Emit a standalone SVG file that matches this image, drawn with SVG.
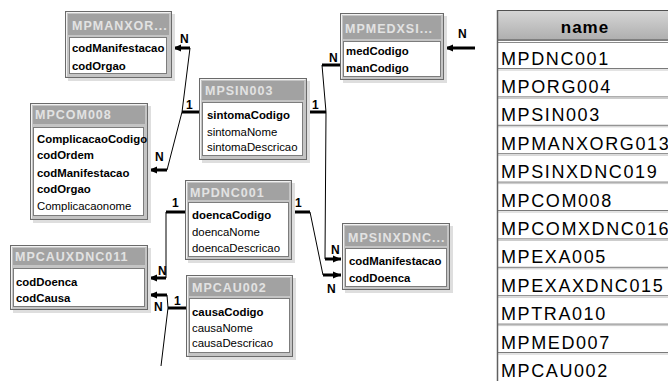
<svg xmlns="http://www.w3.org/2000/svg" width="668" height="381" viewBox="0 0 668 381">
  <defs>
    <linearGradient id="hdr" x1="0" y1="0" x2="0" y2="1">
      <stop offset="0" stop-color="#d6d6d6"/>
      <stop offset="1" stop-color="#adadad"/>
    </linearGradient>
    <marker id="arr" markerUnits="userSpaceOnUse" markerWidth="9" markerHeight="8" refX="8" refY="4" orient="auto">
      <path d="M0,0.5 L8,4 L0,7.5 z" fill="#000"/>
    </marker>
  </defs>
  <style>
    .shadow { fill: #dedede; }
    .win { fill: #c4c4c4; stroke: #6a6a6a; stroke-width: 1; }
    .hl { fill: none; stroke: #f2f2f2; stroke-width: 1; }
    .bar { fill: #a2a2a2; }
    .box { fill: #ffffff; stroke: #7c7c7c; stroke-width: 1; }
    .ttl { font-family: "Liberation Sans", Arial, sans-serif; font-weight: bold; font-size: 12.5px; letter-spacing: 1px; fill: #e2e2e2; }
    .fk { font-family: "Liberation Sans", Arial, sans-serif; font-weight: bold; font-size: 11.4px; fill: #000; }
    .fn { font-family: "Liberation Sans", Arial, sans-serif; font-size: 11.4px; fill: #000; }
    .thin { fill: none; stroke: #000; stroke-width: 1; }
    .stub { fill: none; stroke: #000; stroke-width: 3; }
    .lbl { font-family: "Liberation Sans", Arial, sans-serif; font-weight: bold; font-size: 12px; fill: #000; }
    .rowt { font-family: "Liberation Sans", Arial, sans-serif; font-size: 18px; letter-spacing: 1.6px; fill: #000; }
    .sep { stroke: #7a7a7a; stroke-width: 1; }
    .sep2 { stroke: #c8c8c8; stroke-width: 1; }
  </style>

  <!-- relationship lines -->
  <g id="connectors">
    <!-- MPSIN003.sintomaCodigo -> MPMANXOR.codManifestacao -->
    <path class="stub" d="M182,112 H199"/>
    <path class="thin" d="M182,112 L190,48"/>
    <path class="stub" d="M190,48 H173" marker-end="url(#arr)"/>
    <text class="lbl" x="186" y="109">1</text>
    <text class="lbl" x="180" y="43">N</text>
    <!-- MPSIN003.sintomaCodigo -> MPCOM008.codManifestacao -->
    <path class="thin" d="M182,112 L167,170"/>
    <path class="stub" d="M167,170 H149" marker-end="url(#arr)"/>
    <text class="lbl" x="155" y="161">N</text>
    <!-- MPSIN003.sintomaCodigo -> MPMEDXSI.manCodigo -->
    <path class="stub" d="M307,112 H326"/>
    <path class="thin" d="M326,112 L322,65"/>
    <path class="stub" d="M322,65 H340"/>
    <text class="lbl" x="312" y="109">1</text>
    <text class="lbl" x="329" y="62">N</text>
    <!-- MPSIN003.sintomaCodigo -> MPSINXDNC.codManifestacao -->
    <path class="thin" d="M326,112 L325,259"/>
    <path class="stub" d="M325,259 H341" marker-end="url(#arr)"/>
    <text class="lbl" x="331" y="254">N</text>
    <!-- MPDNC001.doencaCodigo -> MPSINXDNC.codDoenca -->
    <path class="stub" d="M292,212 H310"/>
    <path class="thin" d="M310,212 L323,275"/>
    <path class="stub" d="M323,275 H341" marker-end="url(#arr)"/>
    <text class="lbl" x="295" y="207">1</text>
    <text class="lbl" x="327" y="293">N</text>
    <!-- MPMEDXSI.medCodigo from the right -->
    <path class="stub" d="M475,48 H445" marker-end="url(#arr)"/>
    <text class="lbl" x="458" y="38">N</text>
    <!-- MPDNC001.doencaCodigo -> MPCAUXDNC011.codDoenca -->
    <path class="stub" d="M166,212 H185"/>
    <path class="thin" d="M166,212 V278"/>
    <path class="stub" d="M166,278 H149" marker-end="url(#arr)"/>
    <text class="lbl" x="172" y="207">1</text>
    <text class="lbl" x="158" y="275">N</text>
    <!-- MPCAU002.causaCodigo -> MPCAUXDNC011.codCausa -->
    <path class="stub" d="M168,308 H186"/>
    <path class="thin" d="M168,308 L167,295"/>
    <path class="stub" d="M167,295 H149" marker-end="url(#arr)"/>
    <text class="lbl" x="174" y="305">1</text>
    <text class="lbl" x="154" y="311">N</text>
    <!-- MPCAU002.causaCodigo continuing below -->
    <path class="thin" d="M168,308 L161,366"/>
  </g>

  <g id="MPMANXOR">
    <rect class="shadow" x="68" y="14" width="107" height="67"/>
    <rect class="win" x="65.5" y="11.5" width="106" height="66"/>
    <path class="hl" d="M66.5,76.5 V12.5 H170.5"/>
    <rect class="bar" x="68" y="14" width="101" height="21"/>
    <text class="ttl" x="72" y="30">MPMANXOR...</text>
    <rect class="box" x="69.5" y="37.5" width="97" height="36"/>
    <text class="fk" x="72" y="52">codManifestacao</text>
    <text class="fk" x="72" y="70">codOrgao</text>
  </g>

  <g id="MPCOM008">
    <rect class="shadow" x="33" y="106" width="118" height="117"/>
    <rect class="win" x="30.5" y="103.5" width="117" height="116"/>
    <path class="hl" d="M31.5,218.5 V104.5 H146.5"/>
    <rect class="bar" x="33" y="106" width="112" height="18"/>
    <text class="ttl" x="35" y="119">MPCOM008</text>
    <rect class="box" x="33.5" y="127.5" width="110" height="88"/>
    <text class="fk" x="37" y="143">ComplicacaoCodigo</text>
    <text class="fk" x="37" y="159">codOrdem</text>
    <text class="fk" x="37" y="177">codManifestacao</text>
    <text class="fk" x="37" y="193">codOrgao</text>
    <text class="fn" x="37" y="210">Complicacaonome</text>
  </g>

  <g id="MPSIN003">
    <rect class="shadow" x="202" y="81" width="108" height="82"/>
    <rect class="win" x="199.5" y="78.5" width="107" height="81"/>
    <path class="hl" d="M200.5,158.5 V79.5 H305.5"/>
    <rect class="bar" x="202" y="81" width="102" height="19"/>
    <text class="ttl" x="205" y="95">MPSIN003</text>
    <rect class="box" x="202.5" y="102.5" width="100" height="53"/>
    <text class="fk" x="207" y="119">sintomaCodigo</text>
    <text class="fn" x="207" y="136">sintomaNome</text>
    <text class="fn" x="207" y="151">sintomaDescricao</text>
  </g>

  <g id="MPDNC001">
    <rect class="shadow" x="188" y="183" width="107" height="80"/>
    <rect class="win" x="185.5" y="180.5" width="106" height="79"/>
    <path class="hl" d="M186.5,258.5 V181.5 H290.5"/>
    <rect class="bar" x="188" y="183" width="101" height="17"/>
    <text class="ttl" x="190" y="197">MPDNC001</text>
    <rect class="box" x="188.5" y="202.5" width="100" height="54"/>
    <text class="fk" x="192" y="219">doencaCodigo</text>
    <text class="fn" x="192" y="236">doencaNome</text>
    <text class="fn" x="192" y="252">doencaDescricao</text>
  </g>

  <g id="MPCAU002">
    <rect class="shadow" x="189" y="278" width="107" height="82"/>
    <rect class="win" x="186.5" y="275.5" width="106" height="81"/>
    <path class="hl" d="M187.5,355.5 V276.5 H291.5"/>
    <rect class="bar" x="189" y="278" width="101" height="18"/>
    <text class="ttl" x="192" y="292">MPCAU002</text>
    <rect class="box" x="189.5" y="298.5" width="100" height="54"/>
    <text class="fk" x="192" y="316">causaCodigo</text>
    <text class="fn" x="192" y="332">causaNome</text>
    <text class="fn" x="192" y="347">causaDescricao</text>
  </g>

  <g id="MPMEDXSI">
    <rect class="shadow" x="343" y="16" width="104" height="67"/>
    <rect class="win" x="340.5" y="13.5" width="103" height="66"/>
    <path class="hl" d="M341.5,78.5 V14.5 H442.5"/>
    <rect class="bar" x="343" y="16" width="98" height="23"/>
    <text class="ttl" x="345" y="33">MPMEDXSI...</text>
    <rect class="box" x="343.5" y="41.5" width="97" height="35"/>
    <text class="fk" x="346" y="55">medCodigo</text>
    <text class="fk" x="346" y="72">manCodigo</text>
  </g>

  <g id="MPSINXDNC">
    <rect class="shadow" x="345" y="226" width="108" height="67"/>
    <rect class="win" x="342.5" y="223.5" width="107" height="66"/>
    <path class="hl" d="M343.5,288.5 V224.5 H448.5"/>
    <rect class="bar" x="345" y="226" width="102" height="20"/>
    <text class="ttl" x="348" y="242">MPSINXDNC...</text>
    <rect class="box" x="345.5" y="248.5" width="101" height="38"/>
    <text class="fk" x="349" y="265">codManifestacao</text>
    <text class="fk" x="349" y="282">codDoenca</text>
  </g>

  <g id="MPCAUXDNC011">
    <rect class="shadow" x="13" y="248" width="138" height="65"/>
    <rect class="win" x="10.5" y="245.5" width="137" height="64"/>
    <path class="hl" d="M11.5,308.5 V246.5 H146.5"/>
    <rect class="bar" x="13" y="248" width="132" height="17"/>
    <text class="ttl" x="15" y="261">MPCAUXDNC011</text>
    <rect class="box" x="13.5" y="268.5" width="131" height="38"/>
    <text class="fk" x="16" y="286">codDoenca</text>
    <text class="fk" x="16" y="302">codCausa</text>
  </g>

  <!-- table name list -->
  <g id="name-list">
    <rect x="497" y="10" width="180" height="31" fill="url(#hdr)"/>
    <line x1="497" y1="10.5" x2="668" y2="10.5" stroke="#505050"/>
    <text x="585" y="33" text-anchor="middle" font-family="Liberation Sans, Arial, sans-serif" font-weight="bold" font-size="17" letter-spacing="1" fill="#000">name</text>
    <rect x="497" y="42" width="180" height="339" fill="#fff"/>
    <line x1="497" y1="40" x2="668" y2="40" stroke="#505050" stroke-width="1.2"/>
    <line x1="497" y1="42.5" x2="668" y2="42.5" stroke="#8a8a8a"/>
    <g>
      <line class="sep" x1="497" y1="68.5" x2="668" y2="68.5"/><line class="sep2" x1="497" y1="70" x2="668" y2="70"/>
      <line class="sep" x1="497" y1="96.9" x2="668" y2="96.9"/><line class="sep2" x1="497" y1="98.4" x2="668" y2="98.4"/>
      <line class="sep" x1="497" y1="125.3" x2="668" y2="125.3"/><line class="sep2" x1="497" y1="126.8" x2="668" y2="126.8"/>
      <line class="sep" x1="497" y1="153.7" x2="668" y2="153.7"/><line class="sep2" x1="497" y1="155.2" x2="668" y2="155.2"/>
      <line class="sep" x1="497" y1="182.1" x2="668" y2="182.1"/><line class="sep2" x1="497" y1="183.6" x2="668" y2="183.6"/>
      <line class="sep" x1="497" y1="210.5" x2="668" y2="210.5"/><line class="sep2" x1="497" y1="212" x2="668" y2="212"/>
      <line class="sep" x1="497" y1="238.9" x2="668" y2="238.9"/><line class="sep2" x1="497" y1="240.4" x2="668" y2="240.4"/>
      <line class="sep" x1="497" y1="267.3" x2="668" y2="267.3"/><line class="sep2" x1="497" y1="268.8" x2="668" y2="268.8"/>
      <line class="sep" x1="497" y1="295.7" x2="668" y2="295.7"/><line class="sep2" x1="497" y1="297.2" x2="668" y2="297.2"/>
      <line class="sep" x1="497" y1="324.1" x2="668" y2="324.1"/><line class="sep2" x1="497" y1="325.6" x2="668" y2="325.6"/>
      <line class="sep" x1="497" y1="352.5" x2="668" y2="352.5"/><line class="sep2" x1="497" y1="354" x2="668" y2="354"/>
    </g>
    <line x1="497.5" y1="10" x2="497.5" y2="381" stroke="#606060" stroke-width="1.5"/>
    <text class="rowt" x="501" y="64.5">MPDNC001</text>
    <text class="rowt" x="501" y="92.9">MPORG004</text>
    <text class="rowt" x="501" y="121.3">MPSIN003</text>
    <text class="rowt" x="501" y="149.7">MPMANXORG013</text>
    <text class="rowt" x="501" y="178.1">MPSINXDNC019</text>
    <text class="rowt" x="501" y="206.5">MPCOM008</text>
    <text class="rowt" x="501" y="234.9">MPCOMXDNC016</text>
    <text class="rowt" x="501" y="263.3">MPEXA005</text>
    <text class="rowt" x="501" y="291.7">MPEXAXDNC015</text>
    <text class="rowt" x="501" y="320.1">MPTRA010</text>
    <text class="rowt" x="501" y="348.5">MPMED007</text>
    <text class="rowt" x="501" y="376.9">MPCAU002</text>
  </g>
</svg>
